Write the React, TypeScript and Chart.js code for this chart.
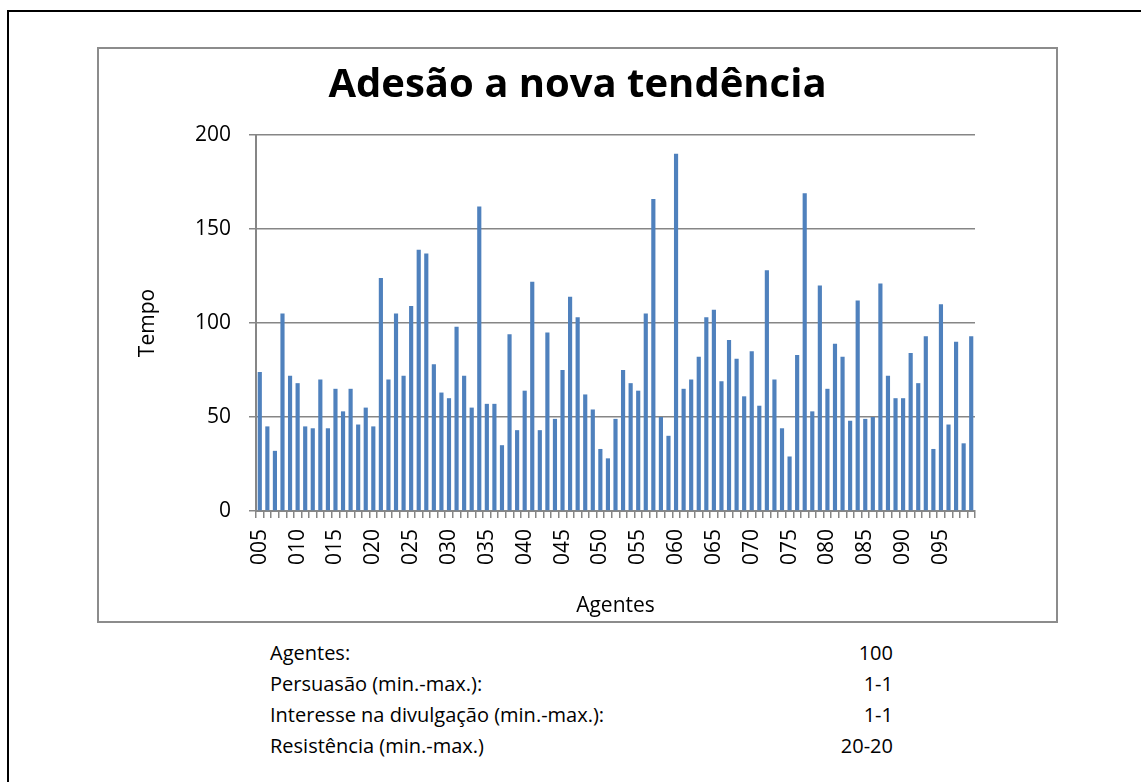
import React, { useEffect, useRef } from 'react';
import { Chart, registerables } from 'chart.js';

Chart.register(...registerables);

const agentLabels = [
  '005', '006', '007', '008', '009', '010', '011', '012', '013', '014',
  '015', '016', '017', '018', '019', '020', '021', '022', '023', '024',
  '025', '026', '027', '028', '029', '030', '031', '032', '033', '034',
  '035', '036', '037', '038', '039', '040', '041', '042', '043', '044',
  '045', '046', '047', '048', '049', '050', '051', '052', '053', '054',
  '055', '056', '057', '058', '059', '060', '061', '062', '063', '064',
  '065', '066', '067', '068', '069', '070', '071', '072', '073', '074',
  '075', '076', '077', '078', '079', '080', '081', '082', '083', '084',
  '085', '086', '087', '088', '089', '090', '091', '092', '093', '094',
  '095', '096', '097', '098', '099',
];

const tempo = [
  74, 45, 32, 105, 72, 68, 45, 44, 70, 44,
  65, 53, 65, 46, 55, 45, 124, 70, 105, 72,
  109, 139, 137, 78, 63, 60, 98, 72, 55, 162,
  57, 57, 35, 94, 43, 64, 122, 43, 95, 49,
  75, 114, 103, 62, 54, 33, 28, 49, 75, 68,
  64, 105, 166, 50, 40, 190, 65, 70, 82, 103,
  107, 69, 91, 81, 61, 85, 56, 128, 70, 44,
  29, 83, 169, 53, 120, 65, 89, 82, 48, 112,
  49, 50, 121, 72, 60, 60, 84, 68, 93, 33,
  110, 46, 90, 36, 93,
];

const yTickValues = [0, 50, 100, 150, 200];

const paramNames = [
  'Agentes:',
  'Persuasão (min.-max.):',
  'Interesse na divulgação (min.-max.):',
  'Resistência (min.-max.)',
];
const paramValues = ['100', '1-1', '1-1', '20-20'];

const FONT = "'Open Sans', sans-serif";
const AXIS_GRAY = '#868686';

export default function App() {
  const canvasRef = useRef<HTMLCanvasElement>(null);

  useEffect(() => {
    document.body.style.overflow = 'hidden';
    const canvas = canvasRef.current;
    if (!canvas) return;
    const chart = new Chart(canvas, {
      type: 'bar',
      data: {
        labels: agentLabels,
        datasets: [
          {
            data: tempo,
            backgroundColor: '#4f81bd',
            borderColor: '#3d6ea8',
            borderWidth: 0,
            barPercentage: 0.55,
            categoryPercentage: 1,
          },
        ],
      },
      options: {
        responsive: false,
        animation: false,
        layout: { padding: { left: 0, right: 0, top: 0, bottom: 0 } },
        plugins: {
          legend: { display: false },
          tooltip: { enabled: false },
          title: {
            display: true,
            text: 'Adesão a nova tendência',
            color: '#000',
            font: { family: FONT, size: 40, weight: 'bold' },
            padding: { top: 13, bottom: 25 },
          },
        },
        scales: {
          x: {
            grid: {
              drawOnChartArea: false,
              drawTicks: true,
              tickLength: 7,
              color: AXIS_GRAY,
              lineWidth: 1.5,
            },
            border: { color: AXIS_GRAY, width: 2 },
            ticks: {
              autoSkip: false,
              maxRotation: 90,
              minRotation: 90,
              padding: 11,
              color: '#000',
              font: { family: FONT, size: 21 },
              callback: (_v: any, i: number) => (i % 5 === 0 ? agentLabels[i] : ''),
            },
            title: {
              display: true,
              text: 'Agentes',
              color: '#000',
              font: { family: FONT, size: 21 },
              padding: { top: 0, bottom: 2 },
            },
            afterFit: (s: any) => {
              s.height = 110;
            },
          },
          y: {
            min: 0,
            max: 200,
            afterBuildTicks: (s: any) => {
              s.ticks = yTickValues.map((v) => ({ value: v }));
            },
            ticks: {
              stepSize: 50,
              padding: 18,
              color: '#000',
              font: { family: FONT, size: 21 },
            },
            grid: {
              color: AXIS_GRAY,
              lineWidth: 1.5,
              tickLength: 7,
            },
            border: { color: AXIS_GRAY, width: 2 },
            title: {
              display: true,
              text: 'Tempo',
              color: '#000',
              font: { family: FONT, size: 21 },
              padding: { top: 36, bottom: 0 },
            },
            afterFit: (s: any) => {
              s.width = 157;
            },
          },
          rightSpace: {
            type: 'linear',
            position: 'right',
            display: true,
            ticks: { display: false },
            grid: { display: false, drawOnChartArea: false },
            border: { display: false },
            title: { display: false },
            afterFit: (s: any) => {
              s.width = 81;
            },
          },
        },
      },
    } as any);
    return () => chart.destroy();
  }, []);

  const rowTops = [637, 668, 699, 730];

  return (
    <div style={{ fontFamily: FONT }}>
      <div
        style={{
          position: 'absolute',
          left: 7,
          top: 10,
          width: 1134,
          height: 772,
          borderTop: '2px solid #000',
          borderLeft: '2px solid #000',
          boxSizing: 'border-box',
        }}
      />
      <div
        style={{
          position: 'absolute',
          left: 97,
          top: 47,
          width: 961,
          height: 576,
          border: '2px solid #8c8c8c',
          boxSizing: 'border-box',
          background: '#fff',
        }}
      >
        <canvas
          ref={canvasRef}
          width={957}
          height={572}
          style={{ display: 'block', width: 957, height: 572 }}
        />
      </div>
      {paramNames.map((name, i) => (
        <React.Fragment key={name}>
          <div
            style={{
              position: 'absolute',
              left: 270,
              top: rowTops[i],
              height: 31,
              lineHeight: '31px',
              fontSize: 20,
              color: '#000',
              whiteSpace: 'nowrap',
            }}
          >
            {name}
          </div>
          <div
            style={{
              position: 'absolute',
              left: 700,
              width: 193,
              top: rowTops[i],
              height: 31,
              lineHeight: '31px',
              fontSize: 20,
              color: '#000',
              textAlign: 'right',
              whiteSpace: 'nowrap',
            }}
          >
            {paramValues[i]}
          </div>
        </React.Fragment>
      ))}
    </div>
  );
}
